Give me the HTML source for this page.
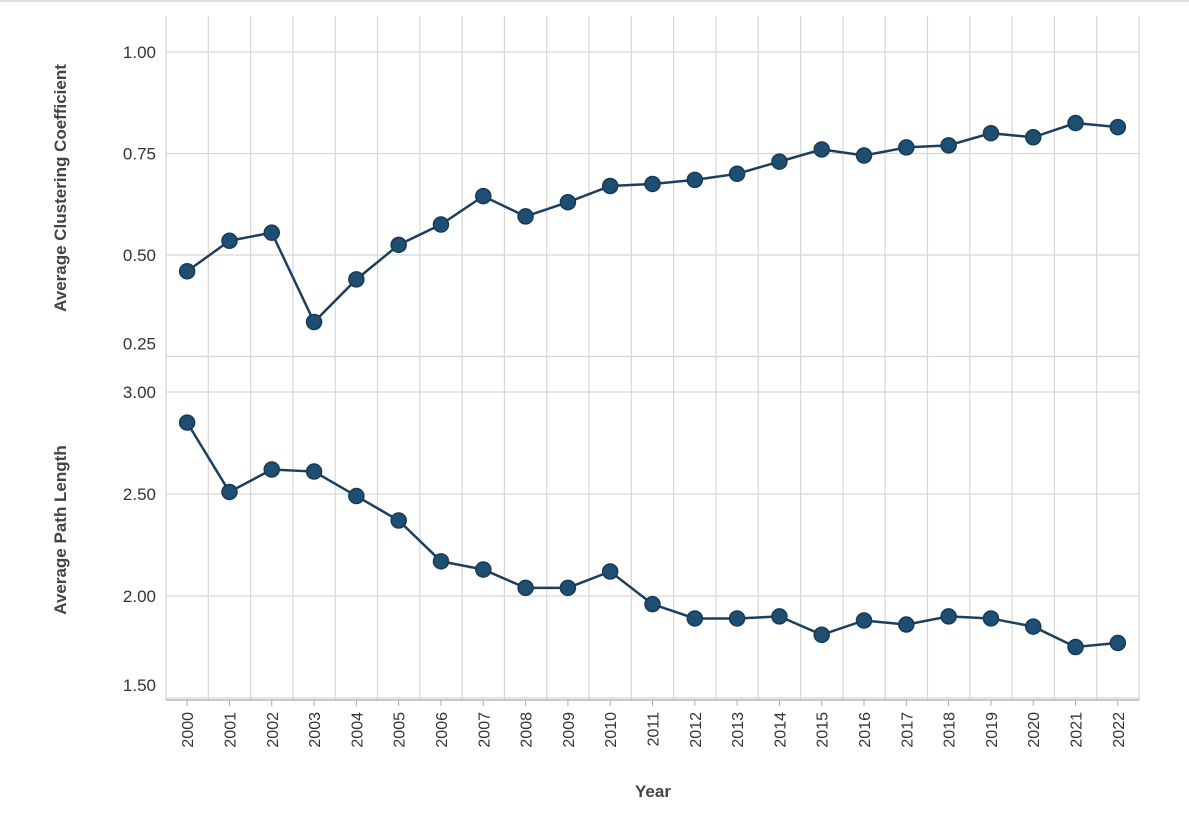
<!DOCTYPE html>
<html><head><meta charset="utf-8"><style>
body{margin:0;background:#fff;}
svg{display:block;font-family:"Liberation Sans",Arial,sans-serif;}
</style></head><body>
<svg id="chart" width="1189" height="828">
<line x1="0" y1="1" x2="1189" y2="1" stroke="#ddd" stroke-width="2"/>
<g id="grid"></g><g id="marks"></g><g id="axes"></g>
<text x="0" y="0" transform="translate(66,188) rotate(-90)" text-anchor="middle" font-size="17" font-weight="bold" fill="#444">Average Clustering Coefficient</text>
<text x="0" y="0" transform="translate(66,530) rotate(-90)" text-anchor="middle" font-size="17" font-weight="bold" fill="#444">Average Path Length</text>
<text x="653" y="797" text-anchor="middle" font-size="17" font-weight="bold" fill="#444">Year</text>
</svg>
<script>
const years=["2000","2001","2002","2003","2004","2005","2006","2007","2008","2009","2010","2011","2012","2013","2014","2015","2016","2017","2018","2019","2020","2021","2022"];
const clustering=[0.46,0.535,0.555,0.335,0.44,0.525,0.575,0.645,0.595,0.63,0.67,0.675,0.685,0.70,0.73,0.76,0.745,0.765,0.77,0.80,0.79,0.825,0.815];
const pathLength=[2.85,2.51,2.62,2.61,2.49,2.37,2.17,2.13,2.04,2.04,2.12,1.96,1.89,1.89,1.90,1.81,1.88,1.86,1.90,1.89,1.85,1.75,1.77];
const clusterTicks=[1.00,0.75,0.50,0.25];
const pathTicks=[3.00,2.50,2.00,1.50];
const NS="http://www.w3.org/2000/svg";
const left=166,right=1139,bw=(right-left)/years.length;
const x=i=>left+bw*(i+0.5);
const yTop=v=>52+(1-v)*406;
const yBot=v=>392+(3-v)*204;
function mk(tag,attrs,parent){const e=document.createElementNS(NS,tag);for(const k in attrs)e.setAttribute(k,attrs[k]);parent.appendChild(e);return e;}
const grid=document.getElementById('grid'),marks=document.getElementById('marks'),axes=document.getElementById('axes');
for(let i=0;i<=years.length;i++){
  const gx=left+bw*i;
  const l=mk('line',{x1:gx,y1:16,x2:gx,y2:700,stroke:'#d6d6d6','stroke-width':1.2},grid);
  
  
}
function yAxis(ticks,yf,name){
  ticks.forEach((t,k)=>{
    const gy=yf(t);
    const l=mk('line',{x1:left,y1:gy,x2:right,y2:gy,stroke:'#d6d6d6','stroke-width':1.2},grid);
    
    
    const ty=k===ticks.length-1?gy-7:gy+6;
    const tx=mk('text',{x:156,y:ty,'text-anchor':'end','font-size':17,fill:'#333'},axes);
    tx.textContent=t.toFixed(2);
    
    
  });
}
yAxis(clusterTicks,yTop,'clustering');
yAxis(pathTicks,yBot,'path-length');
const ax=mk('line',{x1:left,y1:700,x2:right,y2:700,stroke:'#aaa','stroke-width':1.2},axes);


years.forEach((yr,i)=>{
  const tk=mk('line',{x1:x(i),y1:700,x2:x(i),y2:706,stroke:'#aaa'},axes);
  
  
  const t=mk('text',{x:0,y:0,transform:`translate(${x(i)+6},712) rotate(-90)`,'text-anchor':'end','font-size':16,fill:'#333'},axes);
  t.textContent=yr;
  
  
});
function series(vals,yf,name){
  const p=mk('polyline',{points:vals.map((v,i)=>x(i)+','+yf(v)).join(' '),fill:'none',stroke:'#1c3f5e','stroke-width':2.5},marks);
  
  
  vals.forEach((v,i)=>{
    const c=mk('circle',{cx:x(i),cy:yf(v),r:7.5,fill:'#1f4e73',stroke:'#163a57','stroke-width':1.5},marks);
    
    
  });
}
series(clustering,yTop,'clustering');
series(pathLength,yBot,'path-length');
</script>
</body></html>
